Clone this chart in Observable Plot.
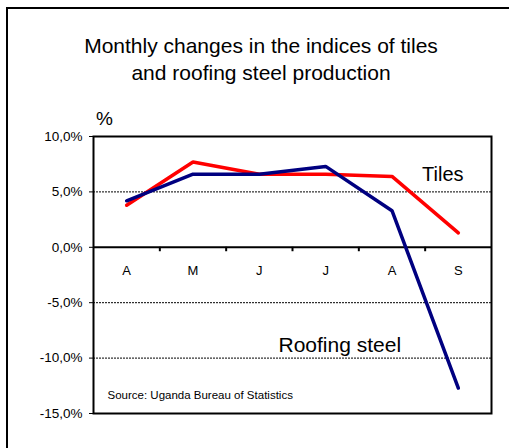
<!DOCTYPE html>
<html>
<head>
<meta charset="utf-8">
<script src="https://cdn.jsdelivr.net/npm/d3@7"></script>
<script src="https://cdn.jsdelivr.net/npm/@observablehq/plot@0.6"></script>
<style>
  html, body { margin: 0; padding: 0; background: #fff; }
  #wrap { position: relative; width: 509px; height: 448px; overflow: hidden; font-family: "Liberation Sans", Arial, sans-serif; }
  #outer { position: absolute; left: 6px; top: 7px; right: -10px; bottom: -10px; border-left: 2px solid #000; border-top: 2px solid #000; }
  #title { position: absolute; left: 0; width: 522px; top: 32px; text-align: center; font-size: 21px; line-height: 27px; color: #000; }
  #pct { position: absolute; left: 96px; top: 108px; font-size: 19px; color: #000; }
  #chart { position: absolute; left: 0; top: 0; }
</style>
</head>
<body>
<div id="wrap">
  <div id="chart"></div>
  <div id="outer"></div>
  <div id="title">Monthly changes in the indices of tiles<br>and roofing steel production</div>
  <div id="pct">%</div>
</div>
<script>
const months = ["A", "M", "J", "J", "A", "S"];
const tiles = [3.8, 7.7, 6.6, 6.6, 6.4, 1.3];
const roofingSteel = [4.2, 6.6, 6.6, 7.3, 3.3, -12.7];
const yTicks = [-15, -10, -5, 0, 5, 10];
const dashedLevels = [5, -5, -10];
const seriesNames = ["Tiles", "Roofing steel"];
const source = "Source: Uganda Bureau of Statistics";

const tilesData = tiles.map((v, i) => ({i, v}));
const steelData = roofingSteel.map((v, i) => ({i, v}));
const monthData = months.map((m, i) => ({i, m}));
const boundaries = months.slice(1).map((_, i) => i + 0.5);

const fmt = d => d.toFixed(1).replace(".", ",") + "%";

const chart = Plot.plot({
  width: 509,
  height: 448,
  marginLeft: 93,
  marginRight: 18,
  marginTop: 136,
  marginBottom: 35,
  style: { fontFamily: "Liberation Sans, Arial, sans-serif", background: "transparent", overflow: "visible", color: "#000" },
  x: { domain: [-0.5, months.length - 0.5], axis: null },
  y: { domain: [-15, 10], axis: null },
  marks: [
    Plot.ruleY(dashedLevels, { stroke: "#000", strokeWidth: 1, strokeDasharray: "2,1" }),
    Plot.ruleY([0], { stroke: "#000", strokeWidth: 2 }),
    Plot.ruleX(boundaries, { y1: 0, y2: -0.4, stroke: "#000", strokeWidth: 2 }),
    Plot.text(monthData, { x: "i", y: () => 0, text: "m", dy: 24, fontSize: 13, fill: "#000" }),
    Plot.axisY({ ticks: yTicks, tickFormat: fmt, tickSize: 4, tickPadding: 7, fontSize: 13.5, label: null }),
    Plot.frame({ stroke: "#000", strokeWidth: 2 }),
    Plot.line(tilesData, { x: "i", y: "v", stroke: "#ff0000", strokeWidth: 3.5, strokeLinejoin: "miter" }),
    Plot.line(steelData, { x: "i", y: "v", stroke: "#000080", strokeWidth: 3.5, strokeLinejoin: "miter" }),
    Plot.text([seriesNames[0]], { frameAnchor: "top-right", dx: -28, dy: 38, lineAnchor: "middle", textAnchor: "end", fontSize: 20, fill: "#000" }),
    Plot.text([seriesNames[1]], { frameAnchor: "top-left", dx: 185, dy: 209, lineAnchor: "middle", textAnchor: "start", fontSize: 21, fill: "#000" }),
    Plot.text([source], { frameAnchor: "top-left", dx: 14, dy: 259, lineAnchor: "middle", textAnchor: "start", fontSize: 11.5, fill: "#000" })
  ]
});
document.getElementById("chart").appendChild(chart);
</script>
</body>
</html>
